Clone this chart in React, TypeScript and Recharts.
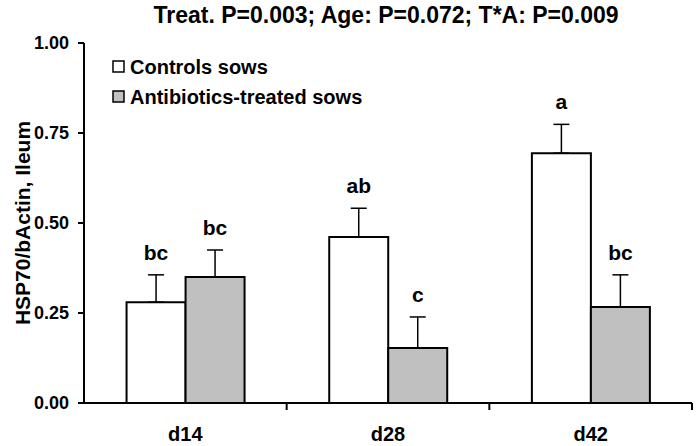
import React from 'react';
import {
  BarChart,
  Bar,
  XAxis,
  YAxis,
  ErrorBar,
  LabelList,
  Label,
} from 'recharts';

const days = ['d14', 'd28', 'd42'];
const controls = [0.28, 0.461, 0.694];
const controlsErr = [0.076, 0.08, 0.08];
const treated = [0.35, 0.153, 0.267];
const treatedErr = [0.075, 0.086, 0.089];
const controlsLetters = ['bc', 'ab', 'a'];
const treatedLetters = ['bc', 'c', 'bc'];
const yTicks = [0, 0.25, 0.5, 0.75, 1];

const data = days.map((d, i) => ({
  day: d,
  ctrl: controls[i],
  ctrlErr: [0, controlsErr[i]],
  trt: treated[i],
  trtErr: [0, treatedErr[i]],
}));

const FONT = 'Liberation Sans, Arial, sans-serif';

// letter sits above the error bar cap; cap height comes from bar height * err/value
const letterContent = (letters: string[], errs: number[], vals: number[]) => (props: any) => {
  const { x, y, width, height, index } = props;
  const errPx = (height * errs[index]) / vals[index];
  return (
    <text
      x={x + width / 2}
      y={y - errPx - 15}
      textAnchor="middle"
      fontFamily={FONT}
      fontWeight="bold"
      fontSize={21}
      fill="#000"
    >
      {letters[index]}
    </text>
  );
};

const XTick = (props: any) => {
  const { x, y, payload } = props;
  const band = 608 / 3;
  return (
    <g>
      <line x1={x + band / 2} y1={y - 8} x2={x + band / 2} y2={y - 1} stroke="#000" strokeWidth={2} />
      <text x={x} y={y + 30} textAnchor="middle" fontFamily={FONT} fontWeight="bold" fontSize={20} fill="#000">
        {payload.value}
      </text>
    </g>
  );
};

const Legend = () => (
  <g fontFamily={FONT} fontWeight="bold" fontSize={20} fill="#000">
    <rect x={113} y={61} width={11} height={11} fill="#fff" stroke="#000" strokeWidth={1.5} />
    <text x={130} y={74}>Controls sows</text>
    <rect x={113} y={91} width={11} height={11} fill="#c0c0c0" stroke="#000" strokeWidth={1.5} />
    <text x={130} y={104}>Antibiotics-treated sows</text>
  </g>
);

export default function App() {
  return (
    <div style={{ position: 'absolute', left: 0, top: 0, background: '#fff' }}>
      <BarChart
        width={699}
        height={446}
        data={data}
        margin={{ top: 43, right: 7, bottom: 5, left: 0 }}
        barGap={0}
        barCategoryGap="21%"
      >
        <text x={386} y={23} textAnchor="middle" fontFamily={FONT} fontWeight="bold" fontSize={23} fill="#000">
          Treat. P=0.003; Age: P=0.072; T*A: P=0.009
        </text>
        <Legend />
        <XAxis
          dataKey="day"
          axisLine={{ stroke: '#000', strokeWidth: 2 }}
          tickLine={false}
          tick={<XTick />}
          height={38}
          interval={0}
        />
        <YAxis
          domain={[0, 1]}
          ticks={yTicks}
          width={84}
          axisLine={{ stroke: '#000', strokeWidth: 2 }}
          tickLine={{ stroke: '#000', strokeWidth: 2 }}
          tickSize={6}
          tickMargin={9}
          tickFormatter={(v: number) => v.toFixed(2)}
          tick={{ fontFamily: FONT, fontWeight: 'bold', fontSize: 18, fill: '#000' }}
        >
          <Label
            content={(p: any) => {
              const { viewBox } = p;
              const cx = 22;
              const cy = viewBox.y + viewBox.height / 2;
              return (
                <text
                  x={cx}
                  y={cy}
                  transform={`rotate(-90 ${cx} ${cy})`}
                  textAnchor="middle"
                  dominantBaseline="central"
                  fontFamily={FONT}
                  fontWeight="bold"
                  fontSize={21}
                  fill="#000"
                >
                  HSP70/bActin, Ileum
                </text>
              );
            }}
          />
        </YAxis>
        <Bar dataKey="ctrl" fill="#fff" stroke="#000" strokeWidth={2} isAnimationActive={false}>
          <ErrorBar dataKey="ctrlErr" direction="y" width={8} stroke="#000" strokeWidth={1.5} />
          <LabelList dataKey="ctrl" content={letterContent(controlsLetters, controlsErr, controls)} />
        </Bar>
        <Bar dataKey="trt" fill="#c0c0c0" stroke="#000" strokeWidth={2} isAnimationActive={false}>
          <ErrorBar dataKey="trtErr" direction="y" width={8} stroke="#000" strokeWidth={1.5} />
          <LabelList dataKey="trt" content={letterContent(treatedLetters, treatedErr, treated)} />
        </Bar>
      </BarChart>
    </div>
  );
}
